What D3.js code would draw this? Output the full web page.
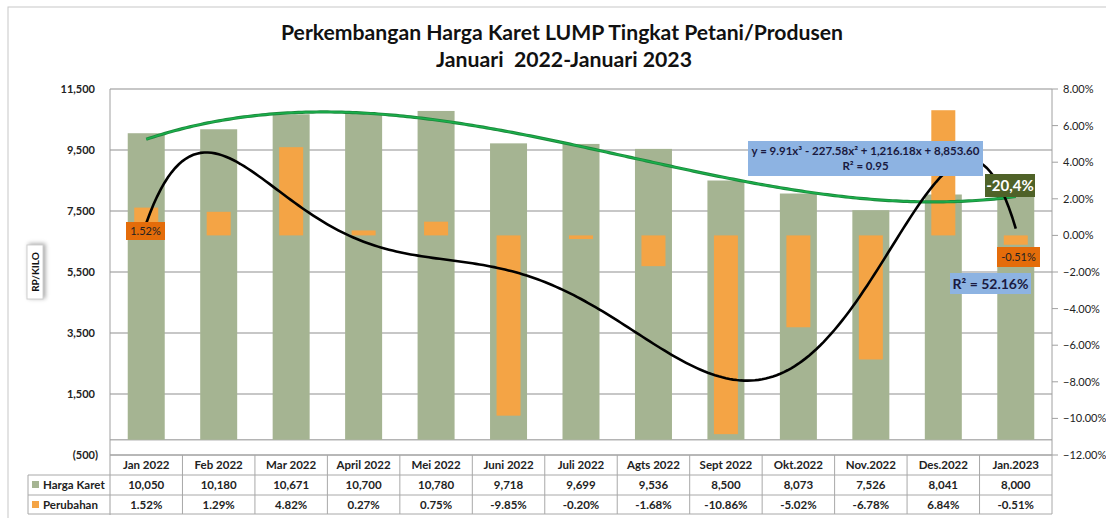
<!DOCTYPE html>
<html>
<head>
<meta charset="utf-8">
<script src="https://cdn.jsdelivr.net/npm/d3@7"></script>
<style>
  body { margin: 0; background: #fff; }
  text { font-family: Lato, "Open Sans", sans-serif; }
</style>
</head>
<body>
<svg id="chart" width="1106" height="518"></svg>
<script>
const months = ["Jan 2022", "Feb 2022", "Mar 2022", "April 2022", "Mei 2022", "Juni 2022",
  "Juli 2022", "Agts 2022", "Sept 2022", "Okt.2022", "Nov.2022", "Des.2022", "Jan.2023"];
const hargaKaret = [10050, 10180, 10671, 10700, 10780, 9718, 9699, 9536, 8500, 8073, 7526, 8041, 8000];
const perubahan = [1.52, 1.29, 4.82, 0.27, 0.75, -9.85, -0.20, -1.68, -10.86, -5.02, -6.78, 6.84, -0.51];
const perubahanLabels = ["1.52%", "1.29%", "4.82%", "0.27%", "0.75%", "-9.85%", "-0.20%", "-1.68%",
  "-10.86%", "-5.02%", "-6.78%", "6.84%", "-0.51%"];
const leftTicks = [-500, 1500, 3500, 5500, 7500, 9500, 11500];
const rightTicks = [-12, -10, -8, -6, -4, -2, 0, 2, 4, 6, 8];
// coefficients of the trendline equation printed on the chart (c0 + c1 x + c2 x^2 + c3 x^3)
const hargaTrendCoef = [8853.60, 1216.18, -227.58, 9.91];
// order of the polynomial trendline over "Perubahan" (R² = 52.16%)
const perubahanTrendOrder = 6;

const svg = d3.select("#chart");
const plotLeft = 110, plotRight = 1052, plotTop = 89, plotBottom = 455;

const x = d3.scaleBand().domain(months).range([plotLeft, plotRight]);
const bw = x.bandwidth();
const cx = (m) => x(m) + bw / 2;
const yL = d3.scaleLinear().domain([-500, 11500]).range([plotBottom, plotTop]);
const yR = d3.scaleLinear().domain([-12, 8]).range([plotBottom, plotTop]);
const xi = d3.scaleLinear().domain([1, months.length]).range([cx(months[0]), cx(months[months.length - 1])]);

// outer frame
svg.append("rect").attr("x", 8).attr("y", 7).attr("width", 1110).attr("height", 520)
  .attr("fill", "none").attr("stroke", "#c8c8c8");

// title
svg.append("text").attr("x", 562).attr("y", 40).attr("text-anchor", "middle")
  .attr("font-size", 20).attr("font-weight", "bold").attr("fill", "#111")
  .attr("textLength", 562).attr("lengthAdjust", "spacingAndGlyphs")
  .text("Perkembangan Harga Karet LUMP Tingkat Petani/Produsen");
svg.append("text").attr("x", 564).attr("y", 67).attr("text-anchor", "middle")
  .attr("font-size", 20).attr("font-weight", "bold").attr("fill", "#111")
  .attr("xml:space", "preserve")
  .attr("textLength", 256).attr("lengthAdjust", "spacingAndGlyphs")
  .text("Januari  2022-Januari 2023");

// gridlines
svg.append("g").selectAll("line").data(leftTicks).join("line")
  .attr("x1", plotLeft).attr("x2", plotRight)
  .attr("y1", (d) => yL(d)).attr("y2", (d) => yL(d))
  .attr("stroke", "#b4b4b4").attr("stroke-width", 1.5);
svg.append("line").attr("x1", plotLeft).attr("x2", plotRight).attr("y1", yL(0)).attr("y2", yL(0))
  .attr("stroke", "#b4b4b4").attr("stroke-width", 1.5);

// left axis
svg.append("line").attr("x1", plotLeft).attr("x2", plotLeft).attr("y1", plotTop).attr("y2", 515)
  .attr("stroke", "#a0a0a0");
svg.append("g").selectAll("text").data(leftTicks).join("text")
  .attr("x", (d) => (d < 0 ? 98 : 95)).attr("y", (d) => yL(d) + 4)
  .attr("text-anchor", "end").attr("font-size", 11).attr("font-weight", "bold").attr("fill", "#222")
  .text((d) => (d < 0 ? "(" + d3.format(",")(-d) + ")" : d3.format(",")(d)));

// right axis
svg.append("line").attr("x1", plotRight).attr("x2", plotRight).attr("y1", plotTop).attr("y2", plotBottom)
  .attr("stroke", "#a0a0a0");
svg.append("g").selectAll("line").data(rightTicks).join("line")
  .attr("x1", plotRight).attr("x2", plotRight + 6)
  .attr("y1", (d) => yR(d)).attr("y2", (d) => yR(d)).attr("stroke", "#a0a0a0");
svg.append("g").selectAll("text").data(rightTicks).join("text")
  .attr("x", plotRight + 11).attr("y", (d) => yR(d) + 4)
  .attr("font-size", 11).attr("fill", "#222")
  .text((d) => d3.format(".2f")(d) + "%");

// RP/KILO label
const yl = svg.append("g").attr("transform", "translate(35,272) rotate(-90)");
yl.append("rect").attr("x", -27).attr("y", -8).attr("width", 54).attr("height", 16)
  .attr("fill", "#fff").attr("stroke", "#d0d0d0")
  .style("filter", "drop-shadow(1px 2px 2px rgba(0,0,0,0.35))");
yl.append("text").attr("text-anchor", "middle").attr("y", 4).attr("font-size", 10)
  .attr("font-weight", "bold").attr("fill", "#111").text("RP/KILO");

// bars
const gw = 37, ow = 24;
svg.append("g").selectAll("rect").data(hargaKaret).join("rect")
  .attr("x", (d, i) => cx(months[i]) - gw / 2).attr("width", gw)
  .attr("y", (d) => yL(d)).attr("height", (d) => yL(0) - yL(d))
  .attr("fill", "#a5b492");
svg.append("g").selectAll("rect").data(perubahan).join("rect")
  .attr("x", (d, i) => cx(months[i]) - ow / 2).attr("width", ow)
  .attr("y", (d) => yR(Math.max(0, d))).attr("height", (d) => Math.abs(yR(d) - yR(0)))
  .attr("fill", "#f4a445");

// trendlines
const steps = d3.range(1, months.length + 0.001, 0.05);
const hargaTrend = (t) => hargaTrendCoef.reduce((s, c, k) => s + c * Math.pow(t, k), 0);

// least-squares polynomial, same as a spreadsheet trendline (x = 1..n)
function polyfit(xs, ys, deg) {
  const n = deg + 1;
  const A = Array.from({ length: n }, () => Array(n + 1).fill(0));
  xs.forEach((xv, k) => {
    for (let i = 0; i < n; i++) {
      for (let j = 0; j < n; j++) A[i][j] += Math.pow(xv, i + j);
      A[i][n] += ys[k] * Math.pow(xv, i);
    }
  });
  for (let i = 0; i < n; i++) {
    let p = i;
    for (let r = i + 1; r < n; r++) if (Math.abs(A[r][i]) > Math.abs(A[p][i])) p = r;
    [A[i], A[p]] = [A[p], A[i]];
    for (let r = 0; r < n; r++) {
      if (r === i) continue;
      const f = A[r][i] / A[i][i];
      for (let c = i; c <= n; c++) A[r][c] -= f * A[i][c];
    }
  }
  return A.map((row, i) => row[n] / row[i]);
}
const mid = (months.length + 1) / 2, half = (months.length - 1) / 2;
const perCoef = polyfit(months.map((m, i) => (i + 1 - mid) / half), perubahan, perubahanTrendOrder);
const perTrend = (t) => perCoef.reduce((s, v, k) => s + v * Math.pow((t - mid) / half, k), 0);

svg.append("path").datum(steps)
  .attr("d", d3.line().x((t) => xi(t)).y((t) => yL(hargaTrend(t))))
  .attr("fill", "none").attr("stroke", "#1d8a3c").attr("stroke-width", 3.2);
svg.append("path").datum(steps)
  .attr("d", d3.line().x((t) => xi(t)).y((t) => yL(hargaTrend(t))))
  .attr("fill", "none").attr("stroke", "#19b04c").attr("stroke-width", 1.4);
svg.append("path").datum(steps)
  .attr("d", d3.line().x((t) => xi(t)).y((t) => yR(perTrend(t))))
  .attr("fill", "none").attr("stroke", "#000").attr("stroke-width", 2.6);

// labels
function box(x0, y0, w, h, fill, txt, opts) {
  const g = svg.append("g");
  g.append("rect").attr("x", x0).attr("y", y0).attr("width", w).attr("height", h).attr("fill", fill);
  (Array.isArray(txt) ? txt : [txt]).forEach((t, k, arr) => {
    g.append("text").attr("x", x0 + w / 2).attr("y", y0 + h / 2 + (k - (arr.length - 1) / 2) * opts.lh + opts.fs * 0.36)
      .attr("text-anchor", "middle").attr("font-size", opts.fs)
      .attr("font-weight", opts.bold ? "bold" : "normal").attr("fill", opts.color).text(t);
  });
}
box(126, 222, 39, 18, "#e46c0a", "1.52%", { fs: 11, color: "#222", lh: 0 });
box(997, 247, 43, 20, "#e46c0a", "-0.51%", { fs: 11, color: "#222", lh: 0 });
box(985, 174, 50, 23, "#4f6228", "-20,4%", { fs: 15, bold: true, color: "#fff", lh: 0 });
box(950, 273, 81, 21, "#8db3e2", "R² = 52.16%", { fs: 14, bold: true, color: "#1a1a40", lh: 0 });
box(748, 141, 235, 35, "#8db3e2",
  ["y = 9.91x³ - 227.58x² + 1,216.18x + 8,853.60", "R² = 0.95"],
  { fs: 11.5, bold: true, color: "#1a1a40", lh: 15 });

// data table
const rowTop = 455, rowH = 20;
const tbl = svg.append("g");
[rowTop, rowTop + rowH, rowTop + rowH * 2, rowTop + rowH * 3 - 1].forEach((yy, k) => {
  tbl.append("line").attr("x1", k === 0 ? plotLeft : 28).attr("x2", plotRight)
    .attr("y1", yy).attr("y2", yy).attr("stroke", "#a8a8a8");
});
tbl.append("line").attr("x1", 28).attr("x2", 28).attr("y1", rowTop + rowH).attr("y2", rowTop + rowH * 3 - 1)
  .attr("stroke", "#a8a8a8");
tbl.selectAll(".vl").data(months).join("line")
  .attr("x1", (m) => x(m) + bw).attr("x2", (m) => x(m) + bw)
  .attr("y1", rowTop).attr("y2", rowTop + rowH * 3 - 1).attr("stroke", "#a8a8a8");
tbl.selectAll(".hd").data(months).join("text")
  .attr("x", cx).attr("y", rowTop + 14).attr("text-anchor", "middle")
  .attr("font-size", 11.5).attr("font-weight", "bold").attr("fill", "#222").text((m) => m);
tbl.selectAll(".hk").data(hargaKaret).join("text")
  .attr("x", (d, i) => cx(months[i])).attr("y", rowTop + rowH + 14).attr("text-anchor", "middle")
  .attr("font-size", 11.5).attr("font-weight", "bold").attr("fill", "#222").text((d) => d3.format(",")(d));
tbl.selectAll(".pb").data(perubahanLabels).join("text")
  .attr("x", (d, i) => cx(months[i])).attr("y", rowTop + rowH * 2 + 14).attr("text-anchor", "middle")
  .attr("font-size", 11.5).attr("font-weight", "bold").attr("fill", "#222").text((d) => d);
[["Harga Karet", "#a5b492"], ["Perubahan", "#f4a445"]].forEach(([name, col], k) => {
  const yy = rowTop + rowH * (k + 1);
  tbl.append("rect").attr("x", 32).attr("y", yy + 6).attr("width", 7).attr("height", 7).attr("fill", col);
  tbl.append("text").attr("x", 43).attr("y", yy + 14).attr("font-size", 11.5).attr("font-weight", "bold")
    .attr("fill", "#222").text(name);
});
</script>
</body>
</html>
